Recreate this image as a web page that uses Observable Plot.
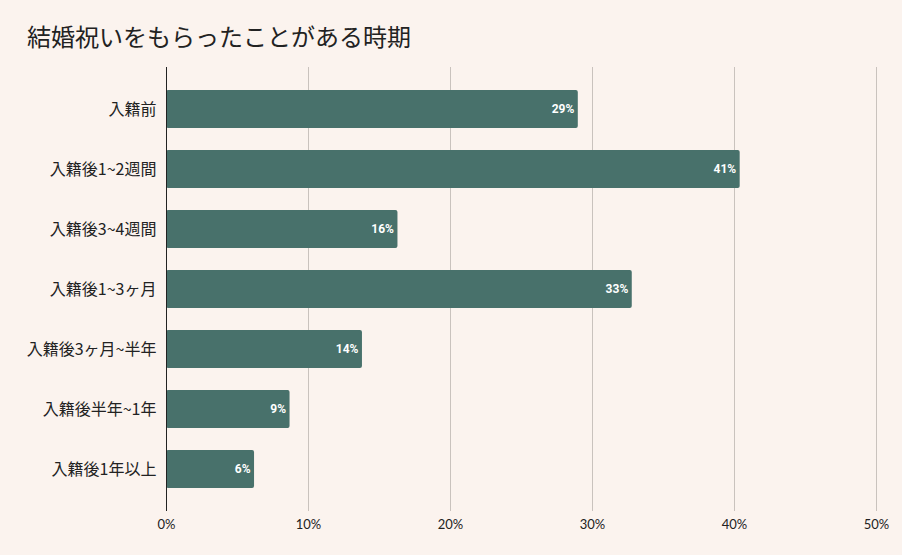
<!DOCTYPE html>
<html><head><meta charset="utf-8">
<script src="https://cdn.jsdelivr.net/npm/d3@7"></script>
<script src="https://cdn.jsdelivr.net/npm/@observablehq/plot@0.6"></script>
<style>
html,body{margin:0;padding:0;background:#fbf3ee;}
#wrap{width:902px;height:555px;position:relative;overflow:hidden;}
#title{position:absolute;left:27px;top:19px;font-family:"Noto Sans CJK JP",sans-serif;font-size:24px;color:#222;line-height:34px;}
#chart{position:absolute;left:0;top:58px;}
</style></head>
<body><div id="wrap"><div id="title">結婚祝いをもらったことがある時期</div><div id="chart"></div></div>
<script>
const categories = ["入籍前","入籍後1~2週間","入籍後3~4週間","入籍後1~3ヶ月","入籍後3ヶ月~半年","入籍後半年~1年","入籍後1年以上"];
const values = [29.0, 40.4, 16.3, 32.8, 13.8, 8.7, 6.2];
const labels = ["29%","41%","16%","33%","14%","9%","6%"];
const xTicks = [0,10,20,30,40,50];
const data = categories.map((c,i)=>({cat:c, v:values[i], label:labels[i]}));

const plot = Plot.plot({
  width: 902,
  height: 497,
  marginLeft: 166,
  marginRight: 26,
  marginTop: 9,
  marginBottom: 44,
  style: {background: "transparent", fontFamily: "Lato, 'Noto Sans CJK JP', sans-serif", color: "#222"},
  x: {domain: [0,50], ticks: xTicks, label: null, tickFormat: d => d + "%"},
  y: {domain: categories, padding: 0.37, label: null},
  marks: [
    Plot.ruleX(xTicks.filter(d=>d>0), {stroke: "#c9c2bd", strokeWidth: 1}),
    Plot.axisX({ticks: xTicks, tickSize: 0, tickPadding: 8, fontSize: 13, tickFormat: d => d + "%", label: null, fill: "#222"}),
    Plot.axisY({tickSize: 0, tickPadding: 10, fontSize: 16, label: null, fontFamily: "'Noto Sans CJK JP', sans-serif", fill: "#222"}),
    Plot.barX(data, {x: "v", y: "cat", fill: "#48716b", rx: 2}),
    Plot.ruleX([0], {stroke: "#222", strokeWidth: 1}),
    Plot.text(data, {x: "v", y: "cat", text: "label", textAnchor: "end", dx: -4, fill: "white", fontWeight: "bold", fontSize: 12, fontFamily: "Roboto, sans-serif"})
  ]
});
document.getElementById("chart").appendChild(plot);
</script></body></html>
